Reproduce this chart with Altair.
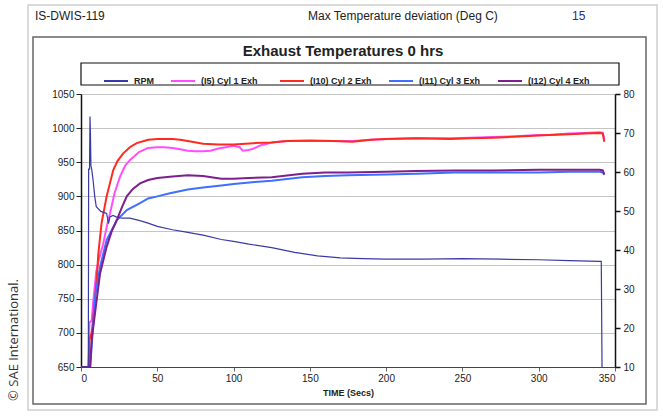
import altair as alt
import pandas as pd

# ---------------- text ----------------
header_left = "IS-DWIS-119"
header_mid = "Max Temperature deviation (Deg C)"
header_val = "15"
chart_title = "Exhaust Temperatures 0 hrs"
x_title = "TIME (Secs)"
credit = "© SAE International."

# ---------------- series ----------------
series_names = ["RPM", "(I5)   Cyl 1 Exh", "(I10) Cyl 2 Exh", "(I11) Cyl 3 Exh", "(I12) Cyl 4 Exh"]
series_colors = ["#3a3aa6", "#ff4dff", "#ff2a1f", "#3f6fff", "#7d1f8c"]

cyl1_t = [0, 5, 5.5, 7, 8, 10, 12, 14.5, 17, 19, 22, 25.6, 29, 32, 38, 44, 50, 55, 60, 65, 70, 75, 80, 85,
          90, 95, 100, 104, 106, 110, 113, 118, 125, 135, 150, 165, 178, 190, 200, 220, 242, 255, 270, 285,
          300, 307, 320, 330, 340, 342, 343]
cyl1_v = [650, 650, 715, 718, 745, 790, 810, 830, 857, 875, 905, 929, 945, 953, 965, 971, 972, 972, 971, 969,
          967, 966, 966, 967, 970, 972, 974, 972, 967, 968, 970, 975, 979, 981, 981, 981, 981, 983, 984, 985,
          985, 986, 987, 988, 990, 990, 992, 993, 994, 993, 984]

cyl2_t = [0, 5, 5.5, 7, 8, 10.3, 11.4, 13.5, 16.8, 21.2, 24, 27.7, 32, 36.5, 44, 50, 60, 65, 70, 80, 90, 100,
          113, 125, 135, 150, 165, 178, 190, 200, 220, 242, 255, 270, 290, 307, 320, 330, 340, 342, 343]
cyl2_v = [650, 650, 690, 700, 720, 778, 817, 861, 900, 939, 952, 963, 972, 978, 983, 984, 984, 983, 981, 977,
          976, 976, 978, 979, 981, 982, 981, 980, 983, 984, 985, 984, 985, 986, 988, 990, 991, 992, 993, 992, 980]

cyl3_t = [0, 6, 7, 9.2, 12.5, 16.8, 23.4, 30, 38.7, 44, 50, 59, 70, 80, 92, 100, 114, 125, 145, 160, 175, 200,
          220, 245, 270, 300, 320, 340, 342, 343]
cyl3_v = [650, 650, 680, 753, 797, 836, 865, 880, 890, 897, 900, 905, 910, 913, 916, 918, 921, 923, 928, 930,
          931, 932, 933, 935, 935, 935, 936, 936, 935, 932]

cyl4_t = [0, 6, 7, 9.2, 12.5, 16.8, 20, 23.4, 27, 30, 34, 38.7, 44, 50, 60, 70, 80, 92, 100, 110, 125, 145,
          160, 175, 200, 220, 245, 270, 300, 320, 340, 342, 343]
cyl4_v = [650, 650, 690, 729, 787, 826, 848, 865, 885, 900, 911, 919, 924, 927, 929, 931, 930, 926, 926, 927,
          928, 933, 935, 935, 936, 937, 938, 938, 939, 939, 939, 938, 932]

rpm_t = [0, 4.8, 5, 5.6, 5.9, 6.2, 6.5, 7, 7.9, 9, 10, 13, 16.8, 18, 19, 21, 23, 27, 32, 38, 44, 50, 60, 70,
         80, 92, 100, 110, 125, 140, 155, 170, 185, 200, 225, 250, 275, 300, 320, 340, 341, 341.5]
rpm_v = [10, 10, 60.75, 60.75, 74.2, 69.5, 61.6, 60.75, 58.0, 53.75, 51.1, 49.9, 49.4, 46.75, 48.5, 48.85,
         48.5, 48.15, 48.15, 47.6, 46.9, 46.05, 45.2, 44.5, 43.8, 42.7, 42.2, 41.5, 40.6, 39.4, 38.5, 38.0,
         37.8, 37.65, 37.65, 37.8, 37.65, 37.5, 37.3, 37.1, 37.1, 10]

x_ticks = [0, 50, 100, 150, 200, 250, 300, 350]
left_ticks = [650, 700, 750, 800, 850, 900, 950, 1000, 1050]
right_ticks = [10, 20, 30, 40, 50, 60, 70, 80]

# ---------------- tables ----------------
rows = []
for name, ts, vs in [(series_names[1], cyl1_t, cyl1_v), (series_names[2], cyl2_t, cyl2_v),
                     (series_names[3], cyl3_t, cyl3_v), (series_names[4], cyl4_t, cyl4_v)]:
    for i, (t, v) in enumerate(zip(ts, vs)):
        rows.append({"series": name, "t": t, "v": v, "i": i})
temps = pd.DataFrame(rows)
rpm = pd.DataFrame({"series": series_names[0], "t": rpm_t, "r": rpm_v, "i": list(range(len(rpm_t)))})

FONT = "Liberation Sans"
W, H = 534, 273
L, T = 81, 94

color = alt.Color(
    "series:N",
    scale=alt.Scale(domain=series_names, range=series_colors),
    legend=alt.Legend(
        orient="none", legendX=22, legendY=-26, direction="horizontal", columns=5,
        title=None, symbolType="stroke", symbolSize=576, symbolStrokeWidth=2,
        labelFont=FONT, labelFontSize=9, labelFontWeight="bold", labelColor="#222", labelOffset=5,
        columnPadding=13, padding=0, labelLimit=200,
    ),
)

x_enc = alt.X(
    "t:Q",
    scale=alt.Scale(domain=[0, 350], nice=False, zero=False),
    axis=alt.Axis(values=x_ticks, title=x_title, grid=False, labelFont=FONT, labelFontSize=10,
                  labelColor="#222", tickColor="#666", tickSize=4, domainColor="#444",
                  titleFont=FONT, titleFontSize=9, titleFontWeight="bold", titleColor="#222",
                  titlePadding=5, labelPadding=2, format="d", zindex=1),
)

temp_lines = alt.Chart(temps).mark_line(strokeWidth=2, clip=True).encode(
    x=x_enc,
    y=alt.Y("v:Q", scale=alt.Scale(domain=[650, 1050], nice=False, zero=False),
            axis=alt.Axis(values=left_ticks, orient="left", title=None, grid=True, gridColor="#c4c4c4",
                          gridWidth=1, labelFont=FONT, labelFontSize=10, labelColor="#222",
                          tickColor="#222", tickSize=5, domainColor="#111", domainWidth=1.5,
                          labelPadding=2, format="d", zindex=0)),
    color=color,
    order="i:Q",
)

rpm_line = alt.Chart(rpm).mark_line(strokeWidth=1.2, clip=True).encode(
    x=x_enc,
    y=alt.Y("r:Q", scale=alt.Scale(domain=[10, 80], nice=False, zero=False),
            axis=alt.Axis(values=right_ticks, orient="right", title=None, grid=False,
                          labelFont=FONT, labelFontSize=10, labelColor="#222",
                          tickColor="#111", tickSize=5, tickWidth=1.5, domainColor="#111", domainWidth=1.5,
                          labelPadding=3, format="d", zindex=1)),
    color=color,
    order="i:Q",
)

one = pd.DataFrame({"a": [0]})

outer = alt.Chart(one).mark_rect(fillOpacity=0, stroke="#d0d0d0", strokeWidth=1.5).encode(
    x=alt.value(28 - L), x2=alt.value(657 - L), y=alt.value(5 - T), y2=alt.value(410 - T))
inner = alt.Chart(one).mark_rect(fillOpacity=0, stroke="#666", strokeWidth=1.5).encode(
    x=alt.value(33 - L), x2=alt.value(646 - L), y=alt.value(37 - T), y2=alt.value(404 - T))
legend_box = alt.Chart(one).mark_rect(fillOpacity=0, stroke="#111", strokeWidth=1.2).encode(
    x=alt.value(81 - L), x2=alt.value(619 - L), y=alt.value(63 - T), y2=alt.value(85 - T))


def label(txt, x, y, size, weight="normal", colr="#222", align="left", angle=0, font=FONT):
    kw = dict(align=align, baseline="middle", fontSize=size, fontWeight=weight, color=colr, font=font)
    if angle:
        kw["angle"] = angle
    return alt.Chart(pd.DataFrame({"label": [txt]})).mark_text(**kw).encode(
        x=alt.value(x - L), y=alt.value(y - T), text="label:N")


texts = [
    label(header_left, 35, 16, 12),
    label(header_mid, 308, 16, 12),
    label(header_val, 572, 16, 12, colr="#2a2a9a"),
    label(chart_title, 343, 51, 15, weight="bold", align="center"),
    label(credit, 14, 340, 13, colr="#333", align="center", angle=270, font="Open Sans"),
]

chart = alt.layer(outer, inner, legend_box, temp_lines, rpm_line, *texts).resolve_scale(
    y="independent"
).properties(
    width=W, height=H,
    autosize=alt.AutoSizeParams(type="none"),
    padding={"left": L, "top": T, "right": 663 - L - W, "bottom": 417 - T - H},
).configure_view(stroke=None).configure(background="white")

chart.save("out.html", embed_options={"renderer": "svg", "actions": False})
